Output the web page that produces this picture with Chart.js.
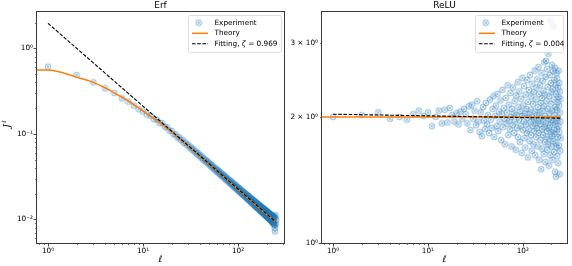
<!DOCTYPE html>
<html>
<head>
<meta charset="utf-8">
<script src="https://cdn.jsdelivr.net/npm/chart.js@4.4.1/dist/chart.umd.min.js"></script>
<style>
  html, body { margin: 0; padding: 0; background: #fff; }
  #wrap { position: relative; width: 572px; height: 266px; overflow: hidden; }
  #erf { position: absolute; left: 0; top: 0; }
  #relu { position: absolute; left: 280px; top: 0; }
</style>
</head>
<body>
<div id="wrap">
  <canvas id="erf" width="290" height="266"></canvas>
  <canvas id="relu" width="292" height="266"></canvas>
</div>
<script>
// ---- data ----
const ell = Array.from({ length: 250 }, (_, i) => i + 1);

const erfExp = [
  0.61, 0.487, 0.40, 0.34, 0.30, 0.26, 0.238, 0.214, 0.194, 0.182,
  0.168, 0.163, 0.148, 0.146, 0.134, 0.133, 0.121, 0.119, 0.109, 0.108,
  0.099, 0.0985, 0.0905, 0.0915, 0.0842, 0.0855, 0.0781, 0.0792, 0.0733, 0.0745,
  0.0688, 0.0697, 0.0649, 0.0663, 0.0611, 0.0622, 0.0578, 0.0595, 0.0551, 0.0563,
  0.0524, 0.0541, 0.0498, 0.0514, 0.0477, 0.0494, 0.0458, 0.0472, 0.0462, 0.0430,
  0.0446, 0.0414, 0.0432, 0.0401, 0.0415, 0.0384, 0.0402, 0.0372, 0.0391, 0.0361,
  0.0377, 0.0352, 0.0366, 0.0339, 0.0356, 0.0327, 0.0345, 0.0320, 0.0334, 0.0311,
  0.0327, 0.0302, 0.0318, 0.0295, 0.0309, 0.0286, 0.0302, 0.0280, 0.0294, 0.0272,
  0.0288, 0.0266, 0.0281, 0.0260, 0.0275, 0.0254, 0.0270, 0.0248, 0.0263, 0.0243,
  0.0258, 0.0238, 0.0254, 0.0233, 0.0247, 0.0228, 0.0243, 0.0223, 0.0238, 0.0219,
  0.0234, 0.0214, 0.0229, 0.0211, 0.0226, 0.0206, 0.0222, 0.0203, 0.0217, 0.0198,
  0.0214, 0.0195, 0.0211, 0.0192, 0.0207, 0.0188, 0.0203, 0.0186, 0.0200, 0.0182,
  0.0197, 0.0179, 0.0194, 0.0176, 0.0191, 0.0173, 0.0189, 0.0171, 0.0186, 0.0168,
  0.0183, 0.0166, 0.0180, 0.0163, 0.0178, 0.0161, 0.0176, 0.0158, 0.0173, 0.0157,
  0.0171, 0.0154, 0.0168, 0.0151, 0.0166, 0.0149, 0.0164, 0.0147, 0.0162, 0.0146,
  0.0161, 0.0143, 0.0159, 0.0141, 0.0157, 0.0139, 0.0155, 0.0138, 0.0153, 0.0136,
  0.0151, 0.0135, 0.0149, 0.0133, 0.0148, 0.0131, 0.0146, 0.0130, 0.0145, 0.0128,
  0.0143, 0.0126, 0.0142, 0.0125, 0.0140, 0.0123, 0.0139, 0.0122, 0.0137, 0.0121,
  0.0136, 0.0119, 0.0135, 0.0118, 0.0133, 0.0117, 0.0132, 0.0116, 0.0131, 0.0114,
  0.0129, 0.0113, 0.0128, 0.0112, 0.0127, 0.0111, 0.0126, 0.0110, 0.0125, 0.0108,
  0.0124, 0.0107, 0.0123, 0.0106, 0.0121, 0.0105, 0.0120, 0.0104, 0.0119, 0.0103,
  0.0118, 0.0102, 0.0117, 0.0101, 0.0116, 0.0100, 0.0115, 0.0099, 0.0114, 0.0098,
  0.0113, 0.0097, 0.0112, 0.0096, 0.0111, 0.0095, 0.0110, 0.0094, 0.0109, 0.0093,
  0.0108, 0.0092, 0.0108, 0.0091, 0.0107, 0.0090, 0.0106, 0.0089, 0.0105, 0.0088,
  0.0104, 0.0085, 0.0108, 0.0079, 0.0072, 0.0112, 0.0086, 0.0103, 0.0089, 0.0098
];

const reluExp = [
  2.00, 2.02, 2.05, 1.98, 2.00, 1.97, 2.03, 2.07, 2.01, 2.05,
  1.90, 2.00, 2.07, 1.93, 2.08, 1.94, 2.10, 2.02, 1.95, 2.04,
  1.92, 2.06, 1.98, 2.09, 2.03, 1.93, 2.12, 1.86, 2.14, 1.98,
  2.07, 1.91, 2.18, 1.95, 1.84, 2.05, 1.80, 2.11, 1.96, 1.87,
  2.16, 1.92, 2.02, 1.83, 2.20, 1.97, 1.88, 2.09, 2.24, 1.79,
  2.01, 2.13, 1.90, 2.27, 1.85, 2.06, 1.95, 2.19, 1.76, 2.03,
  2.32, 1.89, 2.10, 1.98, 1.72, 2.22, 1.93, 2.05, 2.38, 1.81,
  2.14, 1.96, 1.87, 2.28, 2.00, 1.70, 2.09, 1.91, 2.35, 2.04,
  1.83, 2.18, 1.95, 1.67, 2.25, 2.02, 1.88, 2.42, 1.79, 2.11,
  1.97, 2.30, 1.74, 2.06, 1.90, 2.21, 1.64, 2.01, 2.48, 1.86,
  2.13, 1.95, 2.37, 1.78, 2.04, 1.69, 2.26, 1.92, 2.09, 1.83,
  2.45, 1.99, 1.60, 2.17, 1.87, 2.32, 2.03, 1.75, 2.52, 1.94,
  2.08, 1.81, 2.24, 1.66, 2.00, 2.40, 1.90, 2.15, 1.72, 2.29,
  1.97, 1.85, 2.58, 2.06, 1.62, 2.20, 1.93, 1.79, 2.35, 2.02,
  1.88, 2.46, 1.70, 2.11, 1.96, 2.63, 1.83, 2.27, 1.58, 2.05,
  1.92, 2.38, 1.76, 2.16, 1.99, 1.50, 2.55, 1.87, 2.22, 1.68,
  2.07, 2.44, 1.81, 1.95, 2.31, 1.63, 2.12, 2.70, 1.89, 1.74,
  2.26, 2.01, 1.56, 2.49, 1.93, 2.72, 1.79, 2.18, 1.85, 2.60,
  1.67, 2.09, 2.36, 1.72, 1.98, 2.83, 1.88, 1.53, 2.24, 2.04,
  1.77, 2.52, 1.91, 3.40, 1.62, 2.15, 1.84, 2.41, 1.97, 1.70,
  2.29, 2.66, 1.80, 2.07, 1.58, 2.33, 1.94, 2.57, 1.75, 3.29,
  1.86, 2.20, 1.65, 2.45, 2.02, 1.82, 2.62, 1.48, 2.11, 1.92,
  2.38, 1.73, 1.44, 2.27, 1.96, 2.54, 1.69, 2.08, 1.87, 2.47,
  1.61, 2.17, 1.79, 2.35, 1.99, 1.55, 2.23, 1.90, 2.58, 1.71,
  2.13, 1.84, 2.41, 1.46, 2.05, 2.30, 1.66, 1.95, 2.21, 1.78
];

const erfTheoryL = [0.5, 1, 2, 3, 4, 5, 6, 7, 8, 10, 12, 15, 20, 30, 50, 100, 150, 200, 250];
const erfTheory  = [0.558, 0.558, 0.46, 0.40, 0.345, 0.30, 0.268, 0.242, 0.22, 0.186, 0.160, 0.135, 0.105, 0.0715, 0.0438, 0.0224, 0.0150, 0.0114, 0.0093];
const reluTheoryL = [0.5, 1, 250];
const reluTheory  = [2.0, 2.0, 2.0];

const fitL = [1, 250];
const erfFit = [1.96, 0.0093];
const reluFit = [2.03, 1.986];

const legendNames = ["Experiment", "Theory", "Fitting, "];
const erfZeta = "0.969";
const reluZeta = "0.004";

const xMajor = [1, 10, 100];
const xMajorLabels = ["10\u2070", "10\u00b9", "10\u00b2"];
const xMinor = [0.8, 0.9, 2, 3, 4, 5, 6, 7, 8, 9, 20, 30, 40, 50, 60, 70, 80, 90, 200, 300];
const erfYMajor = [0.01, 0.1, 1];
const erfYLabels = ["10\u207b\u00b2", "10\u207b\u00b9", "10\u2070"];
const erfYMinor = [0.006, 0.007, 0.008, 0.009, 0.02, 0.03, 0.04, 0.05, 0.06, 0.07, 0.08, 0.09,
                   0.2, 0.3, 0.4, 0.5, 0.6, 0.7, 0.8, 0.9, 2];
const reluYMajor = [1];
const reluYLabeled = [1, 2, 3];
const reluYLabels = ["10\u2070", "2 \u00d7 10\u2070", "3 \u00d7 10\u2070"];
const reluYMinor = [2, 3];

// ---- styles ----
const FONT = "'DejaVu Sans', 'Liberation Sans', sans-serif";
const ORANGE = "#ff7f0e";
const SPINE = "#3a3a3a";

// circled-cross marker, light blue and see-through
function makeMarker() {
  const c = document.createElement("canvas");
  c.width = 8; c.height = 8;
  const g = c.getContext("2d");
  g.strokeStyle = "rgba(31,119,180,0.5)";
  g.fillStyle = "rgba(31,119,180,0.06)";
  g.lineWidth = 0.85;
  g.beginPath(); g.arc(4, 4, 2.9, 0, Math.PI * 2); g.fill(); g.stroke();
  g.beginPath();
  g.moveTo(2.5, 2.5); g.lineTo(5.5, 5.5);
  g.moveTo(5.5, 2.5); g.lineTo(2.5, 5.5);
  g.stroke();
  return c;
}
const marker = makeMarker();

function pts(xs, ys) {
  return ys.map((y, i) => ({ x: xs[i], y }));
}

// frame, ticks, titles, legend
const decor = {
  id: "decor",
  afterDraw(chart, args, o) {
    const ctx = chart.ctx, a = chart.chartArea;
    const xs = chart.scales.x, ys = chart.scales.y;
    ctx.save();

    // ticks
    ctx.strokeStyle = SPINE;
    const tick = (v, len, w, horiz) => {
      if (horiz) {
        if (v < xs.min || v > xs.max) return;
        const p = Math.round(xs.getPixelForValue(v)) + 0.5;
        ctx.lineWidth = w;
        ctx.beginPath(); ctx.moveTo(p, a.bottom); ctx.lineTo(p, a.bottom + len); ctx.stroke();
      } else {
        if (v < ys.min || v > ys.max) return;
        const p = Math.round(ys.getPixelForValue(v)) + 0.5;
        ctx.lineWidth = w;
        ctx.beginPath(); ctx.moveTo(a.left, p); ctx.lineTo(a.left - len, p); ctx.stroke();
      }
    };
    xMajor.forEach(v => tick(v, 3.5, 0.9, true));
    xMinor.forEach(v => tick(v, 2, 0.7, true));
    o.yMajor.forEach(v => tick(v, 3.5, 0.9, false));
    o.yMinor.forEach(v => tick(v, 2, 0.7, false));

    // frame
    ctx.lineWidth = 1;
    ctx.strokeStyle = SPINE;
    ctx.strokeRect(a.left - 0.5, a.top - 0.5, a.right - a.left + 1, a.bottom - a.top + 1);

    // titles
    ctx.fillStyle = "#000";
    ctx.textAlign = "center";
    ctx.textBaseline = "middle";
    ctx.font = "9px " + FONT;
    ctx.fillText(o.title, (a.left + a.right) / 2, 6);
    ctx.font = "italic 9px " + FONT;
    ctx.fillText("\u2113", (a.left + a.right) / 2, 260);

    if (o.yTitle) {
      ctx.save();
      ctx.translate(8, 126);
      ctx.rotate(-Math.PI / 2);
      ctx.font = "italic 9px 'DejaVu Serif', serif";
      ctx.fillText("J", 0, 0);
      ctx.font = "italic 6px " + FONT;
      ctx.fillText("\u2113", 4.5, -4);
      ctx.restore();
    }

    // legend
    const L = o.legend;
    ctx.beginPath();
    ctx.roundRect(L.x + 0.5, L.y + 0.5, L.w, L.h, 2);
    ctx.fillStyle = "rgba(255,255,255,0.8)";
    ctx.fill();
    ctx.strokeStyle = "rgba(204,204,204,0.8)";
    ctx.lineWidth = 0.8;
    ctx.stroke();

    const rows = [L.y + 7.7, L.y + 18.3, L.y + 28.8];
    ctx.drawImage(marker, L.x + 10.7 - 4, rows[0] - 4);
    ctx.strokeStyle = ORANGE; ctx.lineWidth = 1.5;
    ctx.beginPath(); ctx.moveTo(L.x + 4, rows[1]); ctx.lineTo(L.x + 20, rows[1]); ctx.stroke();
    ctx.strokeStyle = "#000"; ctx.lineWidth = 1.1; ctx.setLineDash([3.6, 1.6]);
    ctx.beginPath(); ctx.moveTo(L.x + 4, rows[2]); ctx.lineTo(L.x + 20, rows[2]); ctx.stroke();
    ctx.setLineDash([]);

    ctx.fillStyle = "#000";
    ctx.textAlign = "left";
    ctx.font = "7.3px " + FONT;
    const tx = L.x + 26.5;
    ctx.fillText(legendNames[0], tx, rows[0]);
    ctx.fillText(legendNames[1], tx, rows[1]);
    ctx.fillText(legendNames[2], tx, rows[2]);
    let w = ctx.measureText(legendNames[2]).width;
    ctx.font = "italic 7.3px " + FONT;
    ctx.fillText("\u03b6", tx + w, rows[2]);
    w += ctx.measureText("\u03b6").width;
    ctx.font = "7.3px " + FONT;
    ctx.fillText(" = " + o.zeta, tx + w, rows[2]);

    ctx.restore();
  }
};

function panel(id, p) {
  const tickFont = { family: FONT, size: 7.3 };
  return new Chart(document.getElementById(id), {
    type: "scatter",
    data: {
      datasets: [
        {
          label: "Fitting",
          data: pts(fitL, p.fit),
          showLine: true,
          borderColor: "#000",
          borderWidth: 1.1,
          borderDash: [3.6, 1.6],
          pointRadius: 0,
          order: 0
        },
        {
          label: "Theory",
          data: pts(p.theoryL, p.theory),
          showLine: true,
          borderColor: ORANGE,
          borderWidth: 1.5,
          cubicInterpolationMode: "monotone",
          pointRadius: 0,
          order: 1
        },
        {
          label: "Experiment",
          data: pts(ell, p.exp),
          pointStyle: marker,
          pointRadius: 4,
          order: 2
        }
      ]
    },
    options: {
      responsive: false,
      animation: false,
      events: [],
      layout: { padding: { top: 12, right: p.padRight, left: 0, bottom: 0 } },
      plugins: {
        legend: { display: false },
        tooltip: { enabled: false },
        decor: {
          title: p.title, yTitle: p.yTitle, yMajor: p.yMajor, yMinor: p.yMinor,
          legend: p.legend, zeta: p.zeta
        }
      },
      scales: {
        x: {
          type: "logarithmic",
          min: p.xMin, max: p.xMax,
          afterBuildTicks: s => { s.ticks = xMajor.map(v => ({ value: v })); },
          afterFit: s => { s.height = 23; },
          ticks: {
            autoSkip: false, maxRotation: 0, padding: 0, color: "#000", font: tickFont,
            callback: (v, i) => xMajorLabels[i]
          },
          grid: { display: true, drawOnChartArea: false, drawTicks: true, tickLength: 4,
                  color: "rgba(0,0,0,0)", tickColor: "rgba(0,0,0,0)" },
          border: { display: false }
        },
        y: {
          type: "logarithmic",
          min: p.yMin, max: p.yMax,
          afterBuildTicks: s => { s.ticks = p.yLabeled.map(v => ({ value: v })); },
          afterFit: s => { s.width = p.yWidth; },
          ticks: {
            autoSkip: false, padding: 0, color: "#000", font: tickFont,
            callback: (v, i) => p.yLabels[i]
          },
          grid: { display: true, drawOnChartArea: false, drawTicks: true, tickLength: 4,
                  color: "rgba(0,0,0,0)", tickColor: "rgba(0,0,0,0)" },
          border: { display: false }
        }
      }
    },
    plugins: [decor]
  });
}

panel("erf", {
  title: "Erf", yTitle: true,
  exp: erfExp, theoryL: erfTheoryL, theory: erfTheory, fit: erfFit, zeta: erfZeta,
  xMin: 0.766, xMax: 305, yMin: 0.00528, yMax: 2.66,
  yLabeled: erfYMajor, yLabels: erfYLabels, yMajor: erfYMajor, yMinor: erfYMinor,
  yWidth: 37, padRight: 6,
  legend: { x: 188, y: 15, w: 93, h: 37 }
});

panel("relu", {
  title: "ReLU", yTitle: false,
  exp: reluExp, theoryL: reluTheoryL, theory: reluTheory, fit: reluFit, zeta: reluZeta,
  xMin: 0.765, xMax: 292, yMin: 1, yMax: 3.56,
  yLabeled: reluYLabeled, yLabels: reluYLabels, yMajor: reluYMajor, yMinor: reluYMinor,
  yWidth: 42, padRight: 5,
  legend: { x: 195, y: 15, w: 88, h: 37 }
});
</script>
</body>
</html>
